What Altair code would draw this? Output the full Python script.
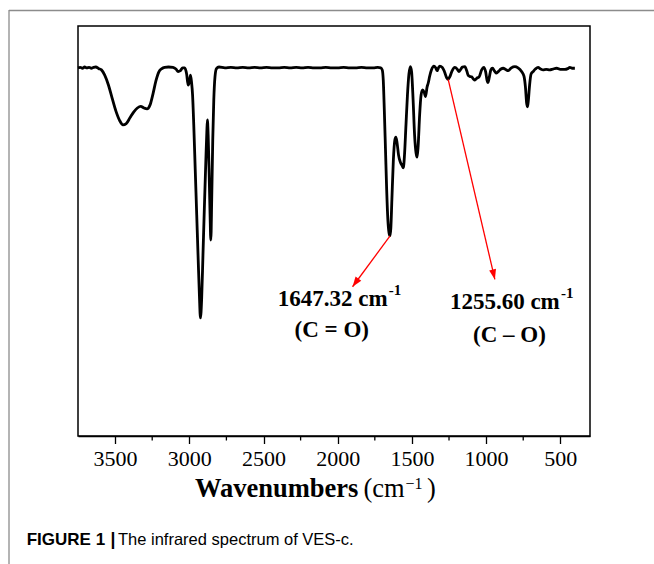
import altair as alt
import pandas as pd

# ---------------- data ----------------
wavenumber = [3750, 3735, 3720, 3705, 3690, 3675, 3660, 3645, 3630, 3610, 3592, 3570, 3545, 3520,
              3495, 3470, 3447, 3425, 3400, 3375, 3350, 3327, 3305, 3285, 3265, 3245, 3225, 3205,
              3185, 3166, 3140, 3110, 3090, 3075, 3060, 3045, 3031, 3018, 3008, 3000, 2992, 2985,
              2978, 2970, 2960, 2950, 2940, 2932, 2925, 2917, 2908, 2898, 2888, 2882, 2878, 2873,
              2866, 2860, 2855, 2849, 2842, 2835, 2827, 2817, 2800, 2760, 2720, 2680, 2640, 2600,
              2560, 2520, 2480, 2440, 2400, 2360, 2320, 2280, 2240, 2200, 2160, 2120, 2080, 2040,
              2000, 1960, 1920, 1880, 1840, 1800, 1760, 1730, 1710, 1700, 1693, 1686, 1678, 1670,
              1662, 1654, 1648, 1642, 1635, 1625, 1615, 1608, 1600, 1590, 1578, 1565, 1558, 1550,
              1540, 1530, 1520, 1510, 1502, 1492, 1482, 1472, 1465, 1458, 1448, 1438, 1428, 1418,
              1408, 1398, 1390, 1380, 1368, 1352, 1340, 1330, 1320, 1312, 1295, 1280, 1265, 1256,
              1245, 1230, 1211, 1195, 1184, 1170, 1160, 1143, 1130, 1121, 1110, 1098, 1086, 1076,
              1062, 1047, 1030, 1016, 1003, 994, 987, 978, 968, 957, 943, 930, 915, 900, 885, 868,
              851, 830, 806, 785, 761, 745, 735, 727, 721, 715, 707, 697, 683, 668, 650, 632, 616,
              595, 571, 550, 525, 500, 469, 450, 436, 420, 402]
transmittance = [89.8, 89.9, 89.7, 90.0, 89.8, 89.9, 89.7, 89.9, 90.0, 89.6, 89.3, 88.0, 85.6, 82.4,
                 79.3, 77.0, 75.9, 76.2, 77.6, 79.0, 80.0, 80.4, 80.0, 79.8, 80.7, 83.4, 86.6, 88.8,
                 89.6, 89.9, 90.0, 89.9, 89.5, 88.9, 89.1, 89.8, 89.8, 88.3, 85.6, 86.3, 88.0, 86.3,
                 83.2, 75.9, 64.9, 53.9, 42.9, 34.4, 28.8, 33.2, 44.1, 56.3, 67.8, 74.1, 77.1, 73.4,
                 63.7, 53.9, 47.8, 57.6, 72.2, 82.0, 87.6, 89.6, 90.0, 89.8, 89.9, 89.8, 89.9, 89.8,
                 89.9, 89.8, 89.9, 89.8, 89.8, 89.9, 89.8, 89.9, 89.8, 89.9, 89.8, 89.8, 89.9, 89.8,
                 89.8, 89.9, 89.8, 89.8, 89.9, 89.8, 89.8, 89.9, 89.8, 89.3, 86.8, 79.5, 69.8, 60.0,
                 52.7, 49.5, 48.8, 50.7, 57.6, 67.3, 72.2, 72.9, 71.5, 68.5, 66.8, 65.9, 65.4, 68.5,
                 75.9, 83.2, 88.3, 90.1, 88.8, 82.0, 73.4, 69.0, 68.0, 70.7, 78.3, 83.2, 84.4, 83.9,
                 82.8, 85.1, 86.1, 87.8, 89.3, 90.2, 89.8, 89.1, 89.9, 90.2, 89.9, 88.8, 87.3, 87.0,
                 87.6, 89.0, 89.9, 89.5, 88.9, 89.5, 90.0, 90.1, 89.0, 88.0, 87.7, 87.6, 87.1, 86.8,
                 87.3, 87.6, 89.3, 89.9, 88.8, 86.8, 86.2, 87.6, 89.3, 89.7, 89.0, 88.5, 89.0, 89.5,
                 89.7, 89.4, 89.1, 89.8, 90.1, 89.8, 88.9, 87.8, 85.1, 81.2, 80.3, 82.0, 85.6, 88.3,
                 88.9, 89.5, 89.9, 89.5, 89.3, 89.4, 89.3, 89.5, 89.7, 89.4, 89.4, 89.6, 89.9, 89.7,
                 89.7]

tick_values = [3500, 3000, 2500, 2000, 1500, 1000, 500]
minor_values = [3250, 2750, 2250, 1750, 1250, 750]

# annotated bands
peak_wn = [1647.32, 1255.60]
peak_T = [48.8, 87.0]
tip_wn = [1900, 941]
tip_T = [36.4, 38.2]
label_main = ["1647.32 cm", "1255.60 cm"]
label_wn = [2404, 1244]
label_T = [31.7, 30.9]
group_text = ["(C = O)", "(C \u2013 O)"]
group_wn = [2040, 843]
group_T = [24.1, 23.0]

# ---------------- chart ----------------
W, H = 512, 410
OX, OY = 78, 26
SERIF = "Liberation Serif"
SANS = "Liberation Sans"

spec = pd.DataFrame({"wn": wavenumber, "T": transmittance})
xscale = alt.Scale(domain=[300, 3750], reverse=True, nice=False, zero=False)
yscale = alt.Scale(domain=[0, 100], nice=False, zero=False)

line = alt.Chart(spec).mark_line(color="black", strokeWidth=2.8, interpolate="monotone").encode(
    x=alt.X("wn:Q", scale=xscale, title=None,
            axis=alt.Axis(values=tick_values, format="d", labelFont=SERIF, labelFontSize=22,
                          labelColor="black", tickColor="black", tickSize=7.5, tickWidth=1.3,
                          domainColor="black", domainWidth=1.5, labelPadding=5, grid=False,
                          labelFlush=False)),
    y=alt.Y("T:Q", scale=yscale, axis=None),
)

minor = alt.Chart(pd.DataFrame({"wn": minor_values})).mark_rule(color="black", strokeWidth=1.3).encode(
    x=alt.X("wn:Q", scale=xscale),
    y=alt.value(H),
    y2=alt.value(H + 4.5),
)

ann = pd.DataFrame({"pw": peak_wn, "pT": peak_T, "tw": tip_wn, "tT": tip_T,
                    "lab": label_main, "lw": label_wn, "lT": label_T,
                    "grp": group_text, "gw": group_wn, "gT": group_T})

arrows = alt.Chart(ann).mark_rule(color="#ff0000", strokeWidth=1.3).encode(
    x=alt.X("pw:Q", scale=xscale), x2="tw:Q",
    y=alt.Y("pT:Q", scale=yscale), y2="tT:Q",
)

head_path = "M0,0 L-0.35,1 L0.35,1 Z"
head1 = alt.Chart(ann.iloc[[0]]).mark_point(shape=head_path, size=400, filled=True, color="#ff0000",
                                             opacity=1, angle=215.8, strokeWidth=0).encode(
    x=alt.X("tw:Q", scale=xscale), y=alt.Y("tT:Q", scale=yscale))
head2 = alt.Chart(ann.iloc[[1]]).mark_point(shape=head_path, size=400, filled=True, color="#ff0000",
                                             opacity=1, angle=166.7, strokeWidth=0).encode(
    x=alt.X("tw:Q", scale=xscale), y=alt.Y("tT:Q", scale=yscale))

lab = alt.Chart(ann).mark_text(font=SERIF, fontSize=23, fontWeight="bold", align="left",
                               baseline="alphabetic", color="black").encode(
    x=alt.X("lw:Q", scale=xscale), y=alt.Y("lT:Q", scale=yscale), text="lab:N")
sup = alt.Chart(ann).mark_text(font=SERIF, fontSize=15, fontWeight="bold", align="left",
                               baseline="alphabetic", color="black", dx=111, dy=-11).encode(
    x=alt.X("lw:Q", scale=xscale), y=alt.Y("lT:Q", scale=yscale), text=alt.value("-1"))
grp = alt.Chart(ann).mark_text(font=SERIF, fontSize=23, fontWeight="bold", align="center",
                               baseline="alphabetic", color="black").encode(
    x=alt.X("gw:Q", scale=xscale), y=alt.Y("gT:Q", scale=yscale), text="grp:N")

one = pd.DataFrame({"k": [0]})


def txt(s, x, y, size, weight="normal", font=SERIF, align="left"):
    return alt.Chart(one).mark_text(font=font, fontSize=size, fontWeight=weight, align=align,
                                    baseline="alphabetic", color="black").encode(
        x=alt.value(x - OX), y=alt.value(y - OY), text=alt.value(s))


title_parts = [
    txt("Wavenumbers", 195, 497, 26.5, "bold"),
    txt("(cm", 363.5, 497, 26.5),
    txt("\u22121", 405.5, 488.5, 16),
    txt(")", 427, 497, 26.5),
]
caption = [
    txt("FIGURE 1", 26.7, 545, 17, "bold", SANS),
    txt("|", 110.5, 545, 17.5, "bold", SANS),
    txt("The infrared spectrum of VES-c.", 118, 545, 16.5, "normal", SANS),
]

border_top = alt.Chart(one).mark_rule(color="#8c8c8c", strokeWidth=1.3).encode(
    x=alt.value(9 - OX), x2=alt.value(654 - OX), y=alt.value(10.5 - OY))
border_left = alt.Chart(one).mark_rule(color="#8c8c8c", strokeWidth=1.3).encode(
    x=alt.value(9 - OX), y=alt.value(10 - OY), y2=alt.value(564 - OY))

chart = alt.layer(
    border_top, border_left, line, minor, arrows, head1, head2, lab, sup, grp,
    *title_parts, *caption
).properties(
    width=W, height=H,
    padding={"left": OX, "top": OY, "right": 654 - OX - W, "bottom": 564 - OY - H},
    autosize=alt.AutoSizeParams(type="none"),
    background="white",
).configure_view(stroke="black", strokeWidth=1.5)

chart.save("out.html", embed_options={"renderer": "svg", "actions": False})
